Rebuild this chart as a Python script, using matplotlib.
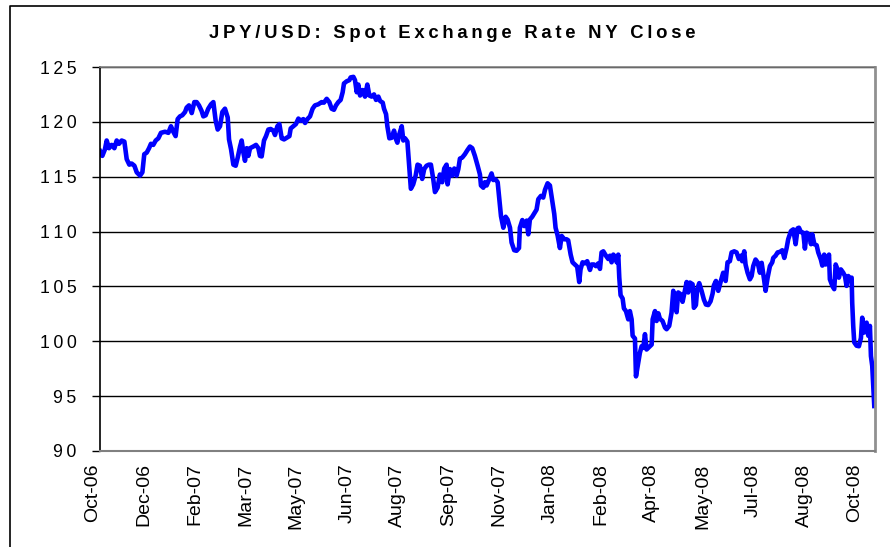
import matplotlib
matplotlib.use("Agg")
import matplotlib.pyplot as plt
import matplotlib.transforms as mtransforms
from matplotlib.lines import Line2D

plt.rcParams['font.family'] = ['Liberation Sans', 'DejaVu Sans']

# trading-day index (0 = first obs, early Oct 2006) and JPY/USD close
day = [
    0, 1.6, 3.4, 4.6, 6.2, 8.0, 9.9, 11.5, 13.1, 14.9, 16.8, 18.4, 20.2, 21.8, 23.7,
    25.3, 27.6, 29.2, 30.5, 32.2, 33.8, 35.1, 36.7, 38.4, 40.2, 42.0, 44.8, 47.1, 48.9,
    50.5, 52.1, 53.5, 55.1, 56.7, 58.6, 59.7, 61.3, 63.2, 65.0, 66.6, 68.2, 70.0, 71.2,
    72.8, 74.6, 76.5, 78.1, 79.7, 81.1, 82.7, 84.3, 86.1, 88.0, 88.9, 90.3, 91.9, 93.5,
    94.9, 96.5, 97.6, 98.8, 99.9, 101.1, 102.2, 103.4, 105.6, 107.5, 109.1, 110.2, 111.4,
    113.0, 114.4, 116.0, 117.6, 119.4, 120.6, 122.2, 123.6, 125.2, 126.8, 128.6, 130.5,
    131.4, 133.2, 135.0, 136.7, 138.3, 140.1, 141.3, 142.9, 144.7, 146.5, 148.1, 150.4,
    152.7, 154.3, 156.2, 158.0, 159.6, 161.2, 162.6, 164.2, 165.8, 167.2, 168.1, 170.0,
    171.8, 172.7, 174.6, 175.7, 176.9, 178.0, 179.2, 181.0, 182.6, 184.2, 185.6, 187.2,
    188.8, 190.2, 191.8, 193.0, 194.8, 195.7, 197.1, 198.0, 199.4, 201.0, 202.6, 204.0,
    204.9, 206.3, 207.9, 209.0, 210.2, 211.8, 212.7, 214.2, 215.8, 217.5, 218.8, 220.4,
    222.0, 223.4, 225.0, 226.6, 228.0, 229.6, 230.8, 232.6, 234.2, 235.8, 237.2, 238.8,
    239.5, 241.1, 242.7, 244.1, 245.7, 246.9, 248.0, 249.6, 251.4, 253.3, 254.9, 256.5,
    258.3, 260.2, 261.8, 262.5, 264.1, 265.2, 266.4, 268.0, 269.8, 271.0, 272.6, 274.0,
    274.9, 276.3, 277.9, 279.5, 280.8, 282.5, 283.6, 285.4, 287.0, 288.7, 289.3, 291.0,
    292.3, 294.0, 295.1, 296.2, 297.8, 299.2, 300.8, 302.0, 303.8, 305.4, 306.6, 308.4,
    310.0, 311.6, 313.0, 313.9, 315.3, 316.9, 318.1, 319.9, 321.5, 322.6, 324.3, 325.6,
    327.2, 328.8, 330.2, 331.1, 332.5, 334.1, 335.7, 337.6, 338.7, 340.3, 341.7, 343.3,
    344.5, 345.6, 346.8, 348.6, 350.2, 351.4, 352.5, 353.7, 354.8, 356.0, 357.1, 357.8,
    358.7, 360.1, 361.0, 362.4, 364.0, 365.1, 366.3, 367.0, 368.6, 369.3, 370.9, 372.0,
    373.2, 374.3, 375.5, 376.6, 377.8, 378.9, 380.1, 380.8, 382.4, 383.5, 384.7, 385.8,
    387.6, 389.3, 390.4, 392.2, 393.8, 395.0, 396.1, 397.3, 398.4, 400.0, 401.4, 403.0,
    404.2, 405.3, 406.5, 408.3, 409.2, 410.6, 411.5, 412.9, 414.5, 416.1, 417.5, 419.1,
    420.7, 422.1, 423.0, 424.4, 426.0, 427.8, 429.4, 431.1, 432.4, 434.0, 435.2, 437.0,
    438.6, 440.2, 441.6, 442.5, 443.9, 444.8, 446.2, 447.8, 449.0, 450.1, 451.7, 453.1,
    454.7, 455.9, 457.7, 458.6, 460.0, 461.6, 463.2, 463.9, 465.5, 466.9, 468.5, 470.1,
    471.5, 473.1, 474.2, 476.1, 477.7, 479.3, 480.7, 481.6, 483.0, 484.6, 485.7, 486.9,
    488.5, 489.9, 490.8, 492.2, 493.8, 494.9, 496.7, 497.7, 499.0, 500.0, 501.3, 502.3,
    502.9, 504.6, 505.9, 506.9, 508.2, 509.1, 510.5, 512.1, 513.3, 514.4, 515.6, 516.7,
    517.9, 518.3, 519.0, 519.7, 521.3, 522.9, 524.3, 525.2, 526.6, 528.2, 529.4, 530.5,
    531.2, 532.1, 533.5,
]
rate = [
    117.35, 116.9, 117.5, 118.3, 117.6, 117.9, 117.6, 118.3, 118.0, 118.3, 118.2, 116.6,
    116.1, 116.2, 116.0, 115.4, 115.1, 115.4, 117.05, 117.2, 117.6, 118.0, 117.9, 118.3,
    118.5, 119.0, 119.1, 119.0, 119.6, 119.1, 118.7, 120.25, 120.5, 120.6, 120.9, 121.3,
    121.5, 120.8, 121.8, 121.8, 121.5, 121.0, 120.5, 120.6, 121.2, 121.6, 121.8, 120.1,
    119.3, 119.6, 120.9, 121.2, 120.4, 118.4, 117.5, 116.1, 116.0, 116.75, 117.75, 118.3,
    117.2, 116.45, 117.6, 116.9, 117.6, 117.75, 117.9, 117.6, 116.9, 116.85, 118.3, 118.7,
    119.3, 119.35, 119.2, 118.8, 119.6, 119.8, 118.5, 118.4, 118.55, 118.7, 119.4, 119.6,
    119.8, 120.3, 120.1, 120.25, 119.9, 120.25, 120.5, 121.2, 121.5, 121.6, 121.8, 121.75,
    122.1, 121.8, 121.2, 121.1, 121.5, 121.8, 122.0, 122.7, 123.5, 123.7, 123.8, 124.05,
    124.1, 123.8, 122.7, 123.4, 122.4, 122.9, 122.3, 123.4, 122.4, 122.3, 122.5, 122.0,
    122.3, 121.9, 121.75, 121.2, 120.7, 119.6, 118.5, 118.55, 119.2, 118.4, 118.1, 118.9,
    119.6, 118.3, 118.5, 118.2, 116.6, 113.9, 114.3, 115.1, 116.1, 116.0, 114.8, 115.7,
    116.0, 116.1, 116.1, 114.8, 113.6, 114.0, 115.2, 114.5, 115.75, 116.1, 114.3, 115.7,
    115.1, 115.75, 115.1, 115.7, 116.65, 116.75, 117.05, 117.45, 117.75, 117.6, 116.9,
    116.0, 115.2, 114.2, 114.0, 114.5, 114.2, 114.7, 115.3, 114.7, 114.75, 114.5, 113.25,
    111.4, 110.35, 111.35, 111.1, 110.35, 109.0, 108.3, 108.25, 108.5, 110.35, 111.05,
    110.5, 111.0, 109.75, 111.1, 111.35, 111.65, 112.0, 112.95, 113.25, 113.1, 113.8,
    114.4, 114.2, 112.8, 111.6, 110.35, 109.65, 108.5, 109.6, 109.3, 109.3, 109.2, 107.9,
    107.2, 107.0, 106.8, 105.4, 106.55, 107.2, 107.1, 107.3, 106.5, 107.0, 107.0, 106.85,
    107.1, 106.6, 108.1, 108.2, 107.8, 107.5, 107.8, 107.2, 107.9, 107.7, 107.2, 107.9,
    105.8, 104.2, 103.9, 103.0, 102.75, 102.0, 102.75, 102.0, 100.5, 100.25, 96.8, 98.05,
    98.95, 99.55, 99.4, 100.65, 99.25, 99.4, 99.55, 99.7, 102.0, 102.75, 101.85, 102.55,
    102.05, 101.85, 101.25, 101.1, 101.4, 102.6, 104.6, 103.8, 102.65, 104.45, 104.3,
    103.6, 104.6, 105.4, 104.45, 105.35, 105.2, 103.05, 103.3, 104.75, 105.3, 104.6,
    103.8, 103.35, 103.3, 103.65, 104.35, 105.1, 105.5, 104.6, 105.5, 106.25, 105.5,
    107.2, 107.3, 108.1, 108.2, 108.1, 107.5, 107.8, 107.3, 108.2, 107.0, 106.25, 105.65,
    105.95, 106.85, 107.45, 107.2, 106.25, 107.15, 105.5, 104.6, 105.8, 106.85, 107.2,
    107.6, 107.8, 108.1, 108.15, 108.3, 107.6, 108.5, 109.3, 110.05, 110.2, 108.85, 110.3,
    110.35, 109.95, 109.9, 108.45, 109.9, 109.75, 108.85, 109.75, 108.85, 108.75, 108.1,
    107.45, 106.9, 107.9, 107.0, 107.45, 107.9, 105.65, 105.05, 104.75, 107.0, 106.55,
    105.8, 106.55, 106.25, 105.95, 105.05, 105.95, 105.65, 105.8, 103.5, 101.4, 99.9,
    99.6, 99.55, 100.3, 102.15, 100.8, 101.7, 100.5, 101.4, 98.65, 97.75, 94.1,
]

tick_labels = ['Oct-06', 'Dec-06', 'Feb-07', 'Mar-07', 'May-07', 'Jun-07', 'Aug-07',
               'Sep-07', 'Nov-07', 'Jan-08', 'Feb-08', 'Apr-08', 'May-08', 'Jul-08',
               'Aug-08', 'Oct-08']
label_step = 35
y_ticks = [90, 95, 100, 105, 110, 115, 120, 125]


def spaced(s, sep='\u2009'):
    return sep.join(s)


fig = plt.figure(figsize=(8.9, 5.47), dpi=100)
ax = fig.add_axes([100 / 890, 1 - 451 / 547, 775 / 890, 384 / 547])

ax.plot(day, rate, color='#0000FF', linewidth=3.3, solid_joinstyle='round')

ax.set_xlim(0, 534)
ax.set_ylim(90, 125)
ax.set_yticks(y_ticks, labels=[spaced(str(v)) for v in y_ticks])
ax.set_xticks([label_step * i for i in range(len(tick_labels))], labels=tick_labels,
              rotation=90)
ax.yaxis.grid(True, color='black', linewidth=1.0)
ax.set_axisbelow(True)

ax.tick_params(axis='y', length=6, width=1, color='black', pad=11, labelsize=12.8)
ax.tick_params(axis='x', length=0, pad=9, labelsize=14)
shift = mtransforms.ScaledTranslation(-7 / 100, 0, fig.dpi_scale_trans)
for lab in ax.get_xticklabels():
    lab.set_transform(lab.get_transform() + shift)

ax.spines['left'].set_color('black')
ax.spines['left'].set_linewidth(1.2)
ax.spines['bottom'].set_color('#808080')
ax.spines['bottom'].set_linewidth(1.5)
ax.spines['right'].set_color('#909090')
ax.spines['right'].set_linewidth(2)
ax.spines['top'].set_color('#808080')
ax.spines['top'].set_linewidth(1.2)

fig.text(452 / 890, 1 - 33 / 547, spaced('JPY/USD: Spot Exchange Rate NY Close'),
         ha='center', va='center', fontsize=13.3, fontweight='bold')

# outer chart border (only top and left edges are visible in the crop)
fig.add_artist(Line2D([10 / 890, 10 / 890, 1.0], [0.0, 1 - 6 / 547, 1 - 6 / 547],
                      transform=fig.transFigure, color='black', linewidth=1.2))

fig.savefig('out.png', dpi=100)
